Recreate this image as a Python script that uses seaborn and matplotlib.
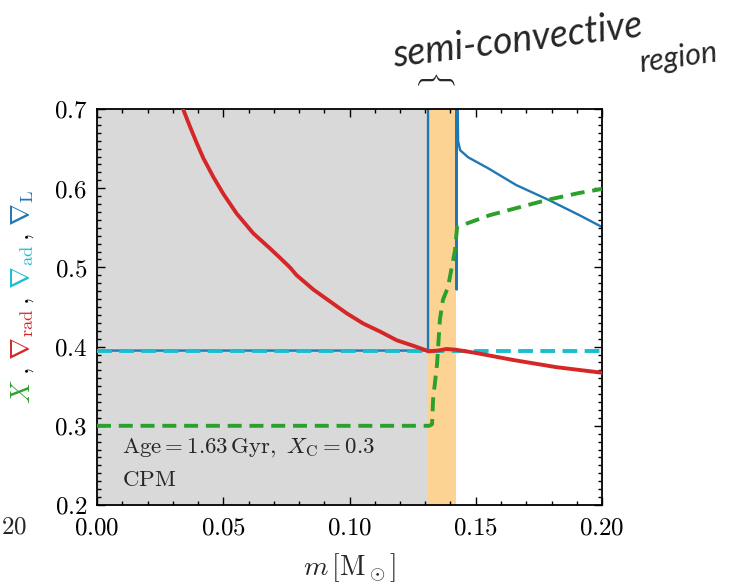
import matplotlib
matplotlib.use("Agg")
import matplotlib.pyplot as plt
from matplotlib.ticker import MultipleLocator, FuncFormatter
import seaborn as sns
import pandas as pd

# ---- profile data (mass coordinate in solar masses) ----
m_rad = [0.0300, 0.0342, 0.0368, 0.0395, 0.0421, 0.0461, 0.0500, 0.0553,
         0.0619, 0.0685, 0.0725, 0.0764, 0.0791, 0.0857, 0.0923, 0.0989,
         0.1055, 0.1121, 0.1187, 0.1253, 0.1306, 0.1311, 0.1350, 0.1385,
         0.1422, 0.150, 0.165, 0.182, 0.200]
nabla_rad = [0.733, 0.699, 0.678, 0.657, 0.638, 0.614, 0.593, 0.568,
             0.543, 0.524, 0.512, 0.500, 0.490, 0.472, 0.457, 0.442,
             0.429, 0.419, 0.408, 0.401, 0.395, 0.394, 0.395, 0.397,
             0.396, 0.392, 0.383, 0.374, 0.367]

m_ad = [0.0, 0.2]
nabla_ad = [0.395, 0.395]

m_L = [0.0, 0.1311, 0.1311, 0.1424, 0.1424, 0.1425, 0.1427, 0.1430, 0.1438,
       0.1470, 0.155, 0.166, 0.179, 0.191, 0.200]
nabla_L = [0.395, 0.395, 1.000, 1.000, 0.472, 1.000, 0.750, 0.660, 0.648,
           0.639, 0.625, 0.604, 0.585, 0.566, 0.551]

m_X = [0.0, 0.1316, 0.1327, 0.1331, 0.1347, 0.1358, 0.1370, 0.1390, 0.1418,
       0.1426, 0.1556, 0.178, 0.191, 0.200]
X_H = [0.300, 0.300, 0.302, 0.333, 0.379, 0.434, 0.459, 0.475, 0.522,
       0.551, 0.566, 0.585, 0.594, 0.599]

conv_edge = 0.1311       # outer edge of the convective core
semi_edge = 0.1422       # outer edge of the semi-convective shell

x_ticks = [0.00, 0.05, 0.10, 0.15, 0.20]
y_ticks = [0.2, 0.3, 0.4, 0.5, 0.6, 0.7]

C_X, C_RAD, C_AD, C_L = "#2ca02c", "#d62728", "#17becf", "#1f77b4"

sns.set_style("ticks")
plt.rcParams["mathtext.fontset"] = "cm"
plt.rcParams["font.family"] = ["DejaVu Serif"]

W, H = 732, 584
fig = plt.figure(figsize=(W / 100, H / 100), dpi=100)
ax = fig.add_axes([97 / W, 1 - 505 / H, 505 / W, 396 / H])

ax.axvspan(0.0, conv_edge, color="#d9d9d9", lw=0, zorder=0)
ax.axvspan(conv_edge, semi_edge, color="#fdd393", lw=0, zorder=0)

df_L = pd.DataFrame({"m": m_L, "v": nabla_L})
df_ad = pd.DataFrame({"m": m_ad, "v": nabla_ad})
df_rad = pd.DataFrame({"m": m_rad, "v": nabla_rad})
df_X = pd.DataFrame({"m": m_X, "v": X_H})

sns.lineplot(data=df_L, x="m", y="v", sort=False, estimator=None, color=C_L,
             lw=1.7, ax=ax, zorder=2)
sns.lineplot(data=df_ad, x="m", y="v", sort=False, estimator=None, color=C_AD,
             lw=2.8, linestyle=(0, (3.8, 1.9)), ax=ax, zorder=3)
sns.lineplot(data=df_rad, x="m", y="v", sort=False, estimator=None, color=C_RAD,
             lw=2.8, ax=ax, zorder=4)
sns.lineplot(data=df_X, x="m", y="v", sort=False, estimator=None, color=C_X,
             lw=2.8, linestyle=(0, (3.6, 2.0)), ax=ax, zorder=5)

ax.set_xlim(0.0, 0.2)
ax.set_ylim(0.2, 0.7)
ax.set_xticks(x_ticks)
ax.set_yticks(y_ticks)
ax.xaxis.set_minor_locator(MultipleLocator(0.01))
ax.yaxis.set_minor_locator(MultipleLocator(0.01))
ax.xaxis.set_major_formatter(FuncFormatter(lambda v, p: f"${v:.2f}$"))
ax.yaxis.set_major_formatter(FuncFormatter(lambda v, p: f"${v:.1f}$"))
ax.tick_params(which="both", direction="in", top=True, right=True,
               width=1.0, colors="black")
ax.tick_params(which="major", length=6, labelsize=18, pad=7)
ax.tick_params(axis="x", which="major", pad=8)
ax.tick_params(which="minor", length=3)
for s in ax.spines.values():
    s.set_linewidth(1.3)
    s.set_color("black")

ax.set_xlabel(r"$m\,[\mathrm{M}_\odot]$", fontsize=20, labelpad=9)
ax.set_ylabel("")

ax.text(0.05, 0.144, r"$\mathrm{Age} = 1.63\,\mathrm{Gyr},\ X_\mathrm{C} = 0.3$",
        transform=ax.transAxes, fontsize=16.5, va="center", ha="left")
ax.text(0.05, 0.063, r"$\mathrm{CPM}$", transform=ax.transAxes,
        fontsize=16.5, va="center", ha="left")

# multi-coloured vertical axis label, assembled piece by piece
pieces = [(r"$X$", C_X), (r"$,$", "black"), (r"$\nabla_\mathrm{rad}$", C_RAD),
          (r"$,$", "black"), (r"$\nabla_\mathrm{ad}$", C_AD), (r"$,$", "black"),
          (r"$\nabla_\mathrm{L}$", C_L)]
gaps = [4, 8, 4, 8, 4, 8, 0]
fig.canvas.draw()
renderer = fig.canvas.get_renderer()
y_px = H - 404
for (txt, col), g in zip(pieces, gaps):
    t = fig.text(23 / W, y_px / H, txt, color=col, fontsize=19, rotation=90,
                 ha="center", va="bottom")
    bb = t.get_window_extent(renderer)
    y_px = bb.y1 + g

# tick label of the neighbouring panel at the left edge
fig.text(1 / W, 1 - 527 / H, r"$20$", fontsize=18, ha="left", va="center")

# hand-written note above the semi-convective shell
fig.text(394 / W, 1 - 67 / H, "semi-convective", fontsize=27, style="italic",
         family="Lato", rotation=7, rotation_mode="anchor", ha="left",
         va="baseline")
fig.text(640 / W, 1 - 72 / H, "region", fontsize=22, style="italic",
         family="Lato", rotation=8, rotation_mode="anchor", ha="left",
         va="baseline")
fig.text(438 / W, 1 - 81 / H, r"$\}$", fontsize=22, rotation=90,
         ha="center", va="center")

fig.savefig("out.png", dpi=100)
